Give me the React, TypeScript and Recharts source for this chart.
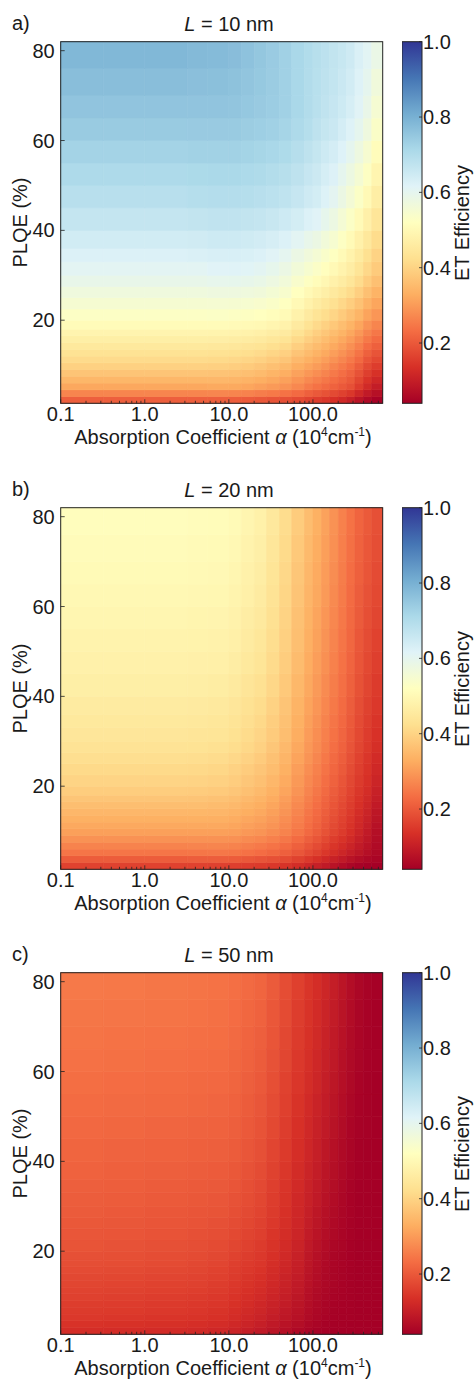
import React from "react";
import { ScatterChart, XAxis, YAxis, ReferenceArea } from "recharts";

// cell edges of the heatmap grid
const alphaEdges = [0.1, 0.32, 1, 3.2, 5.6, 10, 14, 20, 28, 40, 56, 79, 100, 126, 158, 200, 251, 316, 398, 501, 676];
const plqeEdges = [1.5, 3, 4.5, 6, 7.5, 9, 10.5, 12, 13.5, 15, 16.5, 18, 20, 22.5, 25, 27.5, 30, 33, 36, 40, 45, 50, 55, 60, 65, 70, 76, 82];

const xTicks = [
    0.1, 0.2, 0.3, 0.4, 0.5, 0.6, 0.7, 0.8, 0.9,
    1, 2, 3, 4, 5, 6, 7, 8, 9,
    10, 20, 30, 40, 50, 60, 70, 80, 90,
    100, 200, 300, 400, 500, 600,
];
const xMajor = [0.1, 1, 10, 100];
const xMajorLabels = ["0.1", "1.0", "10.0", "100.0"];
const yTicks = [20, 40, 60, 80];
const cbTicks = [0.2, 0.4, 0.6, 0.8, 1.0];
const cbTickLabels = ["0.2", "0.4", "0.6", "0.8", "1.0"];

const panelLetters = ["a)", "b)", "c)"];
const lengths = ["10", "20", "50"];

// ET efficiency, rows = PLQE cells (low -> high), cols = alpha cells (low -> high)
const effL10 = [
    [.21, .21, .21, .21, .21, .208, .204, .199, .193, .187, .179, .167, .157, .147, .136, .122, .104, .08, .06, .045],
    [.267, .267, .267, .267, .269, .268, .263, .256, .249, .24, .228, .212, .2, .189, .177, .163, .147, .119, .093, .072],
    [.319, .319, .319, .319, .322, .322, .316, .308, .299, .288, .272, .253, .239, .227, .214, .201, .186, .155, .123, .098],
    [.345, .345, .345, .345, .346, .344, .338, .33, .32, .309, .291, .273, .26, .247, .232, .218, .202, .172, .141, .118],
    [.37, .37, .37, .37, .369, .367, .361, .353, .341, .33, .311, .294, .28, .266, .25, .234, .217, .19, .159, .137],
    [.396, .396, .396, .396, .393, .389, .383, .375, .362, .351, .33, .314, .301, .286, .268, .251, .233, .207, .177, .157],
    [.415, .415, .415, .415, .412, .409, .403, .395, .383, .372, .35, .333, .319, .304, .286, .269, .25, .225, .195, .175],
    [.433, .433, .433, .433, .431, .427, .422, .415, .404, .393, .371, .352, .337, .322, .304, .286, .267, .242, .213, .193],
    [.451, .451, .451, .451, .449, .446, .441, .435, .424, .414, .391, .371, .355, .34, .322, .304, .284, .26, .231, .211],
    [.469, .469, .469, .469, .468, .465, .46, .454, .445, .435, .412, .391, .374, .357, .339, .321, .302, .278, .249, .229],
    [.487, .487, .487, .487, .486, .484, .479, .474, .465, .456, .432, .41, .392, .375, .357, .339, .319, .296, .267, .247],
    [.508, .508, .508, .508, .508, .506, .501, .497, .489, .48, .456, .432, .413, .396, .378, .359, .339, .316, .288, .268],
    [.53, .53, .53, .53, .531, .529, .525, .521, .514, .504, .48, .456, .437, .42, .403, .384, .363, .341, .313, .292],
    [.55, .55, .55, .55, .552, .551, .548, .543, .535, .524, .501, .479, .461, .445, .428, .409, .389, .366, .338, .316],
    [.57, .57, .57, .57, .574, .574, .57, .565, .556, .544, .521, .502, .486, .47, .453, .435, .416, .392, .363, .339],
    [.59, .59, .59, .59, .595, .596, .593, .587, .577, .564, .542, .525, .51, .495, .478, .46, .442, .417, .388, .363],
    [.608, .608, .608, .608, .614, .615, .612, .606, .596, .583, .562, .547, .533, .518, .502, .483, .464, .439, .409, .383],
    [.624, .624, .624, .626, .631, .631, .628, .623, .613, .602, .583, .568, .555, .539, .523, .503, .482, .457, .427, .399],
    [.643, .643, .643, .645, .65, .65, .647, .642, .634, .624, .607, .592, .581, .564, .548, .526, .504, .478, .448, .418],
    [.667, .667, .667, .671, .674, .674, .671, .667, .66, .651, .639, .624, .614, .596, .579, .555, .531, .505, .475, .442],
    [.689, .689, .689, .693, .696, .696, .693, .689, .683, .675, .663, .649, .639, .621, .605, .581, .557, .531, .502, .466],
    [.707, .707, .707, .71, .712, .712, .708, .704, .698, .69, .678, .664, .652, .636, .622, .6, .578, .554, .526, .489],
    [.725, .725, .725, .727, .728, .727, .724, .719, .714, .706, .692, .678, .665, .65, .638, .619, .599, .576, .549, .511],
    [.743, .743, .743, .744, .744, .743, .739, .734, .729, .721, .707, .693, .678, .665, .655, .638, .62, .599, .573, .534],
    [.758, .758, .758, .757, .757, .755, .75, .744, .738, .729, .714, .7, .686, .674, .664, .65, .634, .613, .589, .552],
    [.771, .771, .771, .768, .767, .763, .756, .748, .74, .729, .714, .7, .688, .677, .668, .655, .641, .62, .599, .568],
    [.785, .785, .785, .78, .778, .772, .762, .752, .742, .73, .714, .701, .69, .681, .671, .661, .648, .627, .61, .585],
];

const effL20 = [
    [.165, .165, .165, .165, .163, .159, .155, .151, .147, .14, .129, .116, .104, .092, .078, .064, .052, .044, .04, .04],
    [.206, .206, .206, .207, .207, .205, .199, .193, .187, .178, .164, .149, .135, .121, .106, .091, .077, .065, .056, .049],
    [.244, .244, .244, .245, .247, .246, .238, .231, .223, .212, .196, .179, .164, .147, .131, .115, .1, .085, .071, .057],
    [.265, .265, .265, .266, .267, .265, .257, .25, .241, .229, .212, .194, .179, .161, .144, .128, .111, .094, .078, .061],
    [.286, .286, .286, .286, .287, .285, .277, .27, .26, .247, .229, .21, .194, .175, .157, .14, .123, .104, .086, .065],
    [.307, .307, .307, .307, .307, .304, .296, .289, .278, .264, .245, .225, .209, .189, .17, .153, .134, .113, .093, .069],
    [.321, .321, .321, .32, .32, .316, .308, .3, .289, .274, .254, .233, .216, .196, .177, .16, .14, .12, .099, .075],
    [.333, .333, .333, .333, .332, .327, .318, .31, .298, .281, .26, .24, .222, .202, .183, .165, .146, .125, .105, .081],
    [.346, .346, .346, .345, .344, .338, .329, .32, .307, .289, .267, .246, .228, .208, .189, .171, .151, .13, .111, .087],
    [.359, .359, .359, .358, .355, .35, .339, .329, .316, .297, .274, .252, .234, .214, .194, .176, .156, .136, .117, .093],
    [.372, .372, .372, .37, .367, .361, .35, .339, .325, .305, .281, .258, .24, .22, .2, .182, .161, .141, .123, .099],
    [.387, .387, .387, .385, .381, .374, .362, .351, .335, .314, .289, .266, .247, .227, .207, .188, .168, .147, .13, .106],
    [.401, .401, .401, .399, .395, .387, .375, .362, .346, .324, .297, .274, .255, .234, .214, .195, .174, .154, .136, .113],
    [.412, .412, .412, .41, .406, .398, .386, .373, .356, .333, .305, .281, .262, .241, .221, .202, .18, .159, .141, .12],
    [.423, .423, .423, .421, .417, .409, .397, .384, .365, .342, .313, .289, .269, .248, .227, .208, .187, .165, .146, .126],
    [.434, .434, .434, .432, .428, .42, .408, .395, .375, .35, .321, .296, .276, .255, .234, .215, .193, .17, .151, .133],
    [.444, .444, .444, .441, .438, .429, .416, .403, .383, .358, .328, .302, .281, .26, .239, .22, .198, .175, .155, .138],
    [.451, .451, .451, .448, .445, .436, .423, .41, .39, .364, .333, .307, .286, .265, .244, .224, .202, .179, .159, .143],
    [.459, .459, .459, .456, .453, .444, .431, .418, .397, .371, .339, .313, .292, .27, .249, .229, .207, .183, .164, .148],
    [.469, .469, .469, .466, .463, .455, .441, .428, .407, .38, .347, .32, .299, .277, .255, .235, .213, .189, .17, .154],
    [.478, .478, .478, .475, .473, .465, .451, .438, .415, .388, .355, .327, .305, .283, .261, .24, .218, .194, .175, .16],
    [.484, .484, .484, .482, .48, .472, .458, .445, .421, .393, .36, .332, .31, .288, .266, .244, .222, .198, .18, .165],
    [.491, .491, .491, .488, .487, .479, .465, .452, .428, .399, .365, .337, .315, .293, .27, .248, .225, .203, .185, .17],
    [.497, .497, .497, .495, .494, .486, .472, .459, .434, .404, .37, .342, .32, .298, .275, .252, .229, .207, .19, .175],
    [.503, .503, .503, .501, .499, .492, .478, .465, .439, .409, .375, .346, .324, .302, .279, .255, .232, .211, .194, .179],
    [.509, .509, .509, .506, .504, .497, .483, .47, .444, .414, .38, .351, .328, .306, .283, .259, .236, .214, .198, .183],
    [.515, .515, .515, .512, .51, .503, .489, .476, .45, .419, .385, .356, .333, .311, .287, .262, .239, .218, .202, .187],
];

const effL50 = [
    [.13, .128, .126, .123, .119, .111, .102, .092, .081, .07, .059, .049, .044, .041, .04, .04, .04, .04, .04, .04],
    [.139, .137, .135, .132, .128, .12, .111, .101, .09, .078, .067, .055, .049, .044, .042, .041, .04, .04, .04, .04],
    [.148, .146, .143, .14, .136, .128, .119, .11, .098, .086, .074, .061, .053, .047, .043, .042, .041, .04, .04, .04],
    [.153, .151, .148, .145, .14, .132, .123, .115, .103, .09, .078, .064, .055, .049, .044, .043, .041, .04, .04, .04],
    [.157, .155, .152, .149, .145, .137, .128, .119, .107, .095, .081, .067, .058, .05, .045, .043, .041, .04, .04, .04],
    [.162, .16, .157, .154, .149, .141, .132, .124, .112, .099, .085, .07, .06, .052, .047, .044, .041, .04, .04, .04],
    [.166, .164, .161, .158, .153, .145, .136, .128, .116, .103, .089, .073, .062, .053, .048, .045, .041, .04, .04, .04],
    [.17, .168, .165, .162, .157, .149, .14, .132, .12, .107, .092, .076, .064, .055, .049, .045, .042, .04, .04, .04],
    [.174, .172, .169, .166, .161, .153, .144, .136, .124, .11, .095, .078, .066, .056, .05, .046, .042, .04, .04, .04],
    [.179, .177, .174, .17, .165, .156, .148, .141, .127, .114, .099, .081, .068, .058, .05, .046, .042, .04, .04, .04],
    [.183, .181, .178, .174, .169, .16, .152, .145, .131, .117, .102, .083, .07, .059, .051, .047, .043, .04, .04, .04],
    [.187, .185, .182, .178, .173, .165, .156, .149, .136, .122, .106, .086, .073, .061, .052, .048, .043, .04, .04, .04],
    [.192, .19, .187, .183, .178, .17, .162, .154, .14, .126, .11, .09, .076, .064, .054, .049, .043, .04, .04, .04],
    [.196, .194, .191, .187, .183, .175, .167, .159, .144, .129, .113, .094, .08, .067, .057, .05, .044, .04, .04, .04],
    [.199, .197, .194, .191, .187, .18, .172, .163, .149, .133, .116, .097, .083, .07, .059, .051, .044, .04, .04, .04],
    [.203, .201, .198, .195, .192, .185, .177, .168, .153, .136, .119, .101, .087, .073, .062, .052, .045, .04, .04, .04],
    [.207, .205, .202, .199, .196, .19, .181, .172, .157, .14, .121, .105, .091, .076, .064, .054, .045, .04, .04, .04],
    [.21, .208, .205, .202, .2, .194, .185, .176, .16, .143, .124, .108, .094, .079, .067, .055, .046, .04, .04, .04],
    [.214, .212, .21, .207, .204, .199, .19, .18, .164, .147, .127, .111, .097, .082, .069, .057, .048, .041, .04, .04],
    [.219, .217, .215, .212, .21, .205, .196, .186, .169, .151, .132, .116, .102, .087, .073, .06, .049, .042, .04, .04],
    [.224, .222, .22, .217, .215, .21, .201, .191, .175, .156, .136, .12, .106, .091, .077, .063, .051, .044, .041, .04],
    [.229, .227, .225, .222, .22, .214, .205, .196, .18, .161, .14, .124, .11, .095, .081, .066, .054, .045, .042, .04],
    [.233, .231, .229, .226, .224, .219, .21, .201, .185, .165, .145, .129, .115, .1, .085, .07, .057, .047, .042, .04],
    [.238, .236, .234, .231, .229, .223, .214, .206, .19, .17, .149, .133, .119, .104, .089, .073, .06, .049, .043, .041],
    [.242, .24, .238, .235, .233, .227, .218, .21, .194, .174, .153, .137, .123, .108, .092, .076, .062, .051, .044, .041],
    [.246, .244, .242, .239, .236, .231, .222, .214, .198, .178, .157, .14, .126, .111, .096, .079, .064, .052, .045, .041],
    [.25, .248, .246, .243, .24, .235, .227, .219, .203, .182, .161, .144, .13, .115, .099, .082, .066, .054, .046, .042],
];

const panels = [effL10, effL20, effL50];

// matplotlib RdYlBu
const RDYLBU = [
    "#a50026", "#d73027", "#f46d43", "#fdae61", "#fee090", "#ffffbf",
    "#e0f3f8", "#abd9e9", "#74add1", "#4575b4", "#313695",
];
const V_MIN = 0.04;
const V_MAX = 1.0;
const FONT = "'Liberation Sans', Arial, Helvetica, sans-serif";
const INK = "#1a1a1a";

const hexToRgb = (h: string) => [
    parseInt(h.slice(1, 3), 16),
    parseInt(h.slice(3, 5), 16),
    parseInt(h.slice(5, 7), 16),
];

const colorFor = (v: number) => {
    const t = Math.min(1, Math.max(0, (v - V_MIN) / (V_MAX - V_MIN)));
    const pos = t * 10;
    const i = Math.min(9, Math.floor(pos));
    const f = pos - i;
    const a = hexToRgb(RDYLBU[i]);
    const b = hexToRgb(RDYLBU[i + 1]);
    const c = a.map((ch, k) => Math.round(ch + (b[k] - ch) * f));
    return `rgb(${c[0]},${c[1]},${c[2]})`;
};

const cellShape = (p: any) => (
    <rect
        x={p.x}
        y={p.y}
        width={p.width}
        height={p.height}
        fill={p.fill}
        stroke={p.fill}
        strokeWidth={0.6}
    />
);

const frameShape = (p: any) => (
    <rect x={p.x} y={p.y} width={p.width} height={p.height} fill="none" stroke="#222" strokeWidth={1} />
);

const XTick = (props: any) => {
    const { x, y, payload } = props;
    const idx = xMajor.indexOf(payload.value);
    const major = idx >= 0;
    return (
        <g>
            <line x1={x} x2={x} y1={y} y2={y - (major ? 4 : 2.5)} stroke="#222" strokeWidth={0.8} />
            {major && (
                <text x={x} y={y + 18} textAnchor="middle" fontSize={20} fontFamily={FONT} fill={INK}>
                    {xMajorLabels[idx]}
                </text>
            )}
        </g>
    );
};

const YTick = (props: any) => {
    const { x, y, payload } = props;
    return (
        <g>
            <line x1={x} x2={x + 4} y1={y} y2={y} stroke="#222" strokeWidth={0.8} />
            <text x={x - 6} y={y + 7} textAnchor="end" fontSize={20} fontFamily={FONT} fill={INK}>
                {payload.value}
            </text>
        </g>
    );
};

const CbTick = (props: any) => {
    const { x, y, payload } = props;
    const idx = cbTicks.indexOf(payload.value);
    return (
        <g>
            <line x1={x - 3} x2={x} y1={y} y2={y} stroke="#222" strokeWidth={0.8} />
            <text x={x + 1} y={y + 7} textAnchor="start" fontSize={20} fontFamily={FONT} fill={INK}>
                {cbTickLabels[idx]}
            </text>
        </g>
    );
};

const Heatmap = ({ values }: { values: number[][] }) => (
    <ScatterChart width={475} height={460} margin={{ top: 41.7, right: 92.3, bottom: 6.7, left: 0 }}>
        {values.map((row, j) =>
            row.map((v, i) => (
                <ReferenceArea
                    key={`${j}-${i}`}
                    x1={alphaEdges[i]}
                    x2={alphaEdges[i + 1]}
                    y1={plqeEdges[j]}
                    y2={plqeEdges[j + 1]}
                    fill={colorFor(v)}
                    ifOverflow="visible"
                    shape={cellShape}
                />
            ))
        )}
        <ReferenceArea x1={0.1} x2={676} y1={1.5} y2={82} ifOverflow="visible" shape={frameShape} />
        <XAxis
            type="number"
            dataKey="x"
            scale="log"
            domain={[0.1, 676]}
            allowDataOverflow
            ticks={xTicks}
            interval={0}
            tick={<XTick />}
            tickLine={false}
            axisLine={false}
            tickSize={0}
            tickMargin={0}
            height={50}
        />
        <YAxis
            type="number"
            dataKey="y"
            domain={[1.5, 82]}
            allowDataOverflow
            ticks={yTicks}
            interval={0}
            tick={<YTick />}
            tickLine={false}
            axisLine={false}
            tickSize={0}
            tickMargin={0}
            width={60.7}
        />
    </ScatterChart>
);

const Colorbar = ({ gradId }: { gradId: string }) => (
    <ScatterChart width={73} height={460} margin={{ top: 41.7, right: 0, bottom: 6.7, left: 0 }}>
        <ReferenceArea
            x1={0}
            x2={1}
            y1={V_MIN}
            y2={V_MAX}
            ifOverflow="visible"
            shape={(p: any) => (
                <rect
                    x={p.x}
                    y={p.y}
                    width={p.width}
                    height={p.height}
                    fill={`url(#${gradId})`}
                    stroke="#222"
                    strokeWidth={1}
                />
            )}
        />
        <XAxis
            type="number"
            dataKey="x"
            domain={[0, 1]}
            allowDataOverflow
            height={50}
            tick={false}
            tickLine={false}
            axisLine={false}
        />
        <YAxis
            type="number"
            dataKey="v"
            orientation="right"
            domain={[V_MIN, V_MAX]}
            allowDataOverflow
            ticks={cbTicks}
            interval={0}
            tick={<CbTick />}
            tickLine={false}
            axisLine={false}
            tickSize={0}
            tickMargin={0}
            width={53}
        />
    </ScatterChart>
);

const Panel = ({ index }: { index: number }) => {
    const gradId = `cbGrad${index}`;
    return (
        <div style={{ position: "absolute", left: 0, top: [0, 466, 931][index], width: 475, height: 465 }}>
            <svg width={0} height={0} style={{ position: "absolute" }}>
                <defs>
                    <linearGradient id={gradId} x1="0" y1="1" x2="0" y2="0">
                        {RDYLBU.map((c, i) => (
                            <stop key={c} offset={i / 10} stopColor={c} />
                        ))}
                    </linearGradient>
                </defs>
            </svg>
            <div style={{ position: "absolute", left: 0, top: 0 }}>
                <Heatmap values={panels[index]} />
            </div>
            <div style={{ position: "absolute", left: 402, top: 0 }}>
                <Colorbar gradId={gradId} />
            </div>
            <svg
                width={475}
                height={465}
                style={{ position: "absolute", left: 0, top: 0, pointerEvents: "none" }}
                fontFamily={FONT}
                fill={INK}
            >
                <text x={12} y={30} fontSize={20}>
                    {panelLetters[index]}
                </text>
                <text x={229} y={31} fontSize={20} textAnchor="middle">
                    <tspan fontStyle="italic">L</tspan> = {lengths[index]} nm
                </text>
                <text transform="translate(27,222.5) rotate(-90)" fontSize={20} textAnchor="middle">
                    PLQE (%)
                </text>
                <text transform="translate(468.5,223) rotate(-90)" fontSize={20} textAnchor="middle">
                    ET Efficiency
                </text>
                <text x={223} y={444} fontSize={20} textAnchor="middle">
                    Absorption Coefficient <tspan fontStyle="italic">α</tspan> (10
                    <tspan dy={-8} fontSize={12}>4</tspan>
                    <tspan dy={8}>cm</tspan>
                    <tspan dy={-8} fontSize={12}>-1</tspan>
                    <tspan dy={8}>)</tspan>
                </text>
            </svg>
        </div>
    );
};

export default function App() {
    return (
        <div
            style={{
                position: "absolute",
                left: 0,
                top: 0,
                width: 475,
                height: 1380,
                background: "#fff",
                fontFamily: FONT,
            }}
        >
            <Panel index={0} />
            <Panel index={1} />
            <Panel index={2} />
        </div>
    );
}
